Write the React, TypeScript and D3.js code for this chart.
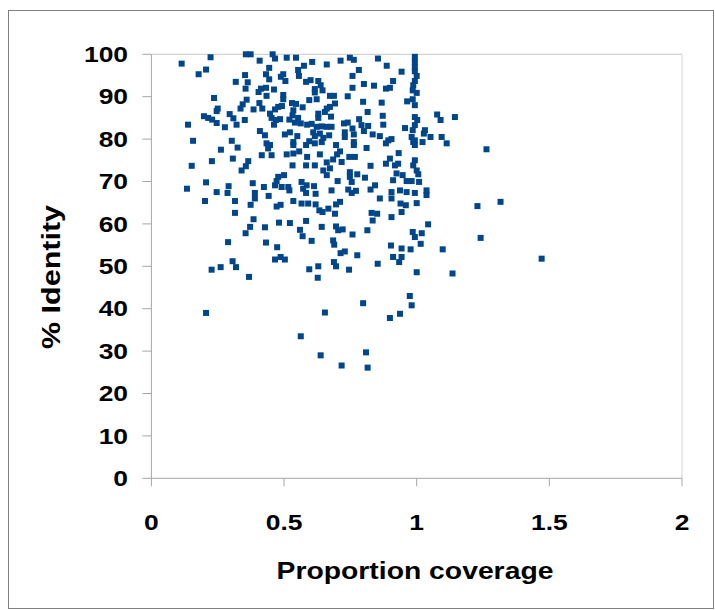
import React from "react";
import * as d3 from "d3";

const xTicks = [0, 0.5, 1, 1.5, 2];
const yTicks = [0, 10, 20, 30, 40, 50, 60, 70, 80, 90, 100];
const xTitle = "Proportion coverage";
const yTitle = "% Identity";

const coverage = [
  0.114, 0.223, 0.356, 0.374, 0.457, 0.466, 0.408, 0.206, 0.178, 0.444,
  0.432, 0.353, 0.488, 0.497, 0.444, 0.318, 0.363, 0.355, 0.413, 0.432,
  0.404, 0.434, 0.462, 0.497, 0.497, 0.236, 0.359, 0.344, 0.336, 0.407,
  0.418, 0.385, 0.250, 0.246, 0.478, 0.492, 0.466, 0.447, 0.453, 0.295,
  0.198, 0.214, 0.229, 0.246, 0.309, 0.321, 0.352, 0.277, 0.138, 0.469,
  0.485, 0.462, 0.409, 0.428, 0.503, 0.157, 0.303, 0.325, 0.262, 0.434,
  0.447, 0.440,
  0.510, 0.545, 0.606, 0.661, 0.713, 0.748, 0.763, 0.854, 0.887, 0.782,
  0.758, 0.553, 0.575, 0.556, 0.505, 0.583, 0.600, 0.629, 0.638, 0.616,
  0.645, 0.616, 0.758, 0.801, 0.839, 0.884, 0.899, 0.911, 0.673, 0.688,
  0.740, 0.798, 0.868, 0.595, 0.623, 0.530, 0.545, 0.570, 0.692, 0.661,
  0.673, 0.654, 0.535, 0.532, 0.629, 0.629, 0.677, 0.815, 0.872, 0.520,
  0.553, 0.563, 0.541, 0.587, 0.604, 0.623, 0.642, 0.661, 0.679, 0.726,
  0.740, 0.758, 0.783, 0.792, 0.817, 0.801, 0.874, 0.522, 0.550, 0.610,
  0.616, 0.635, 0.670, 0.729, 0.729, 0.763, 0.834, 0.861, 0.893, 0.905,
  0.884, 0.535, 0.535, 0.583, 0.595, 0.616, 0.642, 0.648, 0.696, 0.763,
  0.763, 0.811, 0.711, 0.557,
  0.993, 0.993, 0.993, 0.993, 1.000, 0.993, 0.987, 0.985, 1.000, 0.964,
  0.985, 0.993, 0.993, 1.002, 0.993, 0.985, 0.981, 0.993, 0.987, 0.993,
  0.956, 1.031, 1.027, 1.052, 1.022, 1.077, 1.090, 1.144, 1.094, 1.113,
  1.263, 0.943,
  0.416, 0.453, 0.152, 0.228, 0.307, 0.365, 0.356, 0.340, 0.206, 0.134,
  0.291, 0.382, 0.424, 0.466, 0.478, 0.500, 0.472, 0.491, 0.246, 0.287,
  0.390, 0.390, 0.442, 0.202, 0.315, 0.374, 0.472, 0.487, 0.315, 0.385,
  0.372, 0.355, 0.428, 0.481, 0.289, 0.432, 0.474,
  0.510, 0.535, 0.532, 0.587, 0.583, 0.616, 0.635, 0.661, 0.685, 0.700,
  0.717, 0.746, 0.767, 0.648, 0.673, 0.661, 0.748, 0.748, 0.755, 0.776,
  0.805, 0.826, 0.884, 0.899, 0.932, 0.918, 0.930, 0.924, 0.947, 0.911,
  0.962, 0.981, 0.993, 0.987, 1.000, 1.006, 1.009, 0.516, 0.520, 0.566,
  0.585, 0.572, 0.583, 0.613, 0.619, 0.702, 0.679, 0.742, 0.755, 0.771,
  0.826, 0.843, 0.861, 0.905, 0.905, 0.937, 0.962, 0.993, 1.037, 1.037,
  1.000, 0.939, 0.959, 0.943, 0.905, 0.830, 0.851, 0.834, 0.535, 0.566,
  0.591, 0.619, 0.633, 0.645, 0.667, 0.692, 0.696, 0.711, 0.522, 0.583,
  0.642, 0.696, 0.704, 0.721, 0.758, 0.814, 0.560, 0.570, 0.604, 0.685,
  0.689, 0.713, 0.729, 0.776, 0.985, 0.993, 1.019, 1.015, 0.977, 0.943,
  0.903, 1.043,
  1.229, 1.316, 1.241, 1.098, 1.471, 1.135,
  0.227, 0.261, 0.306, 0.319, 0.368, 0.466, 0.487, 0.503, 0.206,
  0.911, 0.943, 0.934, 0.595, 0.629, 0.627, 0.688, 0.696, 0.745, 0.853,
  1.000, 0.974, 0.981, 0.798, 0.654, 0.937, 0.899, 0.563, 0.638, 0.809,
  0.717, 0.815,
];

const identity = [
  97.8, 99.3, 100, 100, 100, 99.0, 98.5, 96.4, 95.3, 96.8,
  95.3, 95.1, 94.7, 95.3, 94.1, 93.5, 93.4, 91.9, 91.9, 92.1,
  91.1, 90.2, 91.7, 90.4, 89.4, 89.7, 89.3, 88.2, 87.2, 88.5,
  87.2, 87.0, 87.2, 86.6, 87.6, 87.8, 87.0, 86.0, 85.0, 85.9,
  85.4, 85.0, 84.6, 83.8, 84.9, 83.4, 84.5, 82.8, 83.4, 84.5,
  84.7, 83.4, 81.9, 80.9, 81.1, 79.6, 79.6, 78.0, 77.5, 79.0,
  78.6, 77.8,
  99.2, 99.2, 98.2, 97.6, 98.5, 99.2, 98.7, 99.0, 97.3, 96.3,
  94.9, 96.3, 97.3, 94.9, 93.7, 93.5, 93.9, 93.7, 92.7, 91.8,
  91.5, 91.0, 92.1, 93.0, 92.6, 91.9, 92.1, 93.7, 90.2, 90.2,
  90.1, 88.8, 88.6, 89.2, 89.4, 88.5, 88.3, 87.5, 88.4, 87.2,
  87.6, 86.4, 86.8, 85.6, 86.0, 85.0, 85.3, 86.4, 85.5, 84.6,
  85.0, 83.7, 83.9, 83.4, 83.6, 82.9, 83.0, 82.9, 82.9, 83.7,
  83.9, 82.5, 84.7, 83.3, 83.1, 81.9, 83.4, 81.6, 80.7, 81.6,
  80.7, 81.3, 80.9, 81.6, 80.5, 81.1, 81.1, 80.7, 79.7, 80.0,
  79.0, 79.3, 78.6, 78.6, 79.5, 79.0, 79.3, 80.3, 78.6, 79.3,
  78.6, 77.9, 77.1, 77.1,
  99.4, 98.2, 97.0, 96.0, 94.9, 93.7, 92.7, 91.5, 90.9, 88.9,
  89.4, 88.0, 85.2, 84.5, 83.3, 82.1, 80.5, 79.7, 79.3, 78.6,
  82.6, 82.1, 81.3, 80.5, 79.3, 85.8, 84.5, 85.2, 80.5, 79.0,
  77.6, 95.9,
  76.2, 76.2, 73.7, 74.8, 75.4, 74.8, 73.6, 72.6, 69.8, 68.3,
  68.9, 69.6, 68.7, 69.1, 71.1, 71.5, 70.1, 68.7, 67.5, 67.3,
  67.3, 66.0, 66.6, 65.4, 65.4, 64.5, 64.1, 64.5, 62.6, 61.1,
  59.3, 57.8, 59.2, 60.3, 55.7, 55.6, 54.5,
  76.4, 76.6, 73.8, 75.8, 73.8, 73.8, 76.4, 74.5, 75.2, 76.4,
  74.6, 75.8, 75.8, 72.6, 73.1, 71.5, 72.2, 71.1, 69.9, 71.7,
  70.9, 73.7, 74.2, 75.4, 76.7, 73.8, 74.2, 71.9, 71.5, 70.3,
  70.1, 70.1, 75.0, 73.8, 72.6, 71.7, 69.9, 68.7, 67.9, 69.9,
  69.1, 68.3, 67.3, 68.9, 67.1, 70.1, 67.9, 68.1, 67.3, 67.8,
  68.1, 69.1, 66.0, 67.5, 66.0, 67.9, 67.5, 67.3, 67.9, 66.8,
  64.9, 64.8, 64.4, 62.8, 61.6, 62.6, 62.4, 60.8, 65.4, 64.8,
  64.8, 64.6, 63.2, 62.8, 63.6, 62.4, 64.6, 65.2, 60.2, 60.7,
  59.3, 59.4, 58.5, 58.7, 57.5, 58.5, 58.6, 57.1, 56.0, 56.1,
  55.1, 53.1, 53.5, 52.6, 58.1, 56.9, 57.8, 55.3, 54.0, 54.2,
  54.9, 59.9,
  64.2, 65.2, 56.7, 54.0, 51.8, 48.3,
  49.2, 49.8, 51.2, 49.8, 47.5, 51.6, 52.2, 51.6, 39.0,
  52.2, 52.2, 51.0, 49.3, 50.0, 47.3, 51.0, 50.0, 49.2, 50.6,
  48.6, 43.0, 40.8, 41.3, 39.1, 38.8, 37.8, 33.5, 29.0, 29.7,
  26.6, 26.1,
];

const W = 715;
const H = 610;
const FONT = "'Liberation Sans', Arial, Helvetica, sans-serif";
const MARK = "#00468b";

export default function App() {
  const x = d3.scaleLinear().domain([0, 2]).range([151.4, 682]);
  const y = d3.scaleLinear().domain([0, 100]).range([478.3, 54.3]);
  const n = Math.min(coverage.length, identity.length);
  const pts = d3.range(n).map((i) => [coverage[i], identity[i]]);
  const [x0, x1] = x.range();
  const [y0, y1] = y.range();

  return (
    <div style={{ position: "absolute", left: 0, top: 0, width: W, height: H, background: "#fff" }}>
      <svg width={W} height={H} style={{ display: "block" }}>
        <rect x={0} y={0} width={W} height={H} fill="#fff" />
        <rect x={8.5} y={10.5} width={705} height={598} fill="none" stroke="#808080" strokeWidth={1} />
        {/* plot frame */}
        <line x1={x0} x2={x1} y1={y1} y2={y1} stroke="#c8c8c8" strokeWidth={1} />
        <line x1={x1} x2={x1} y1={y1} y2={y0} stroke="#d4d4d4" strokeWidth={1} />
        {/* axes */}
        <line x1={x0} x2={x0} y1={y1} y2={y0} stroke="#a6a6a6" strokeWidth={1} />
        <line x1={x0} x2={x1} y1={y0} y2={y0} stroke="#a6a6a6" strokeWidth={1} />
        {yTicks.map((t) => (
          <g key={"yt" + t}>
            <line x1={x0 - 9} x2={x0} y1={y(t)} y2={y(t)} stroke="#a6a6a6" />
            <text
              transform={`translate(128,${y(t)}) scale(1.2,1)`}
              textAnchor="end"
              dominantBaseline="central"
              fontFamily={FONT}
              fontWeight="bold"
              fontSize={22}
              fill="#000"
            >
              {t}
            </text>
          </g>
        ))}
        {xTicks.map((t) => (
          <g key={"xt" + t}>
            <line x1={x(t)} x2={x(t)} y1={y0} y2={y0 + 8} stroke="#a6a6a6" />
            <text
              transform={`translate(${x(t)},${y0 + 44}) scale(1.2,1)`}
              textAnchor="middle"
              dominantBaseline="central"
              fontFamily={FONT}
              fontWeight="bold"
              fontSize={22}
              fill="#000"
            >
              {t}
            </text>
          </g>
        ))}
        <text
          transform={`translate(415,571) scale(1.18,1)`}
          textAnchor="middle"
          dominantBaseline="central"
          fontFamily={FONT}
          fontWeight="bold"
          fontSize={24}
          fill="#000"
        >
          {xTitle}
        </text>
        <text
          transform={`translate(51,277) rotate(-90) scale(1.22,1)`}
          textAnchor="middle"
          dominantBaseline="central"
          fontFamily={FONT}
          fontWeight="bold"
          fontSize={25}
          fill="#000"
        >
          {yTitle}
        </text>
        {pts.map(([cx, cy], i) => (
          <rect
            key={i}
            x={x(cx) - 3}
            y={y(cy) - 3}
            width={6}
            height={6}
            fill={MARK}
          />
        ))}
      </svg>
    </div>
  );
}
